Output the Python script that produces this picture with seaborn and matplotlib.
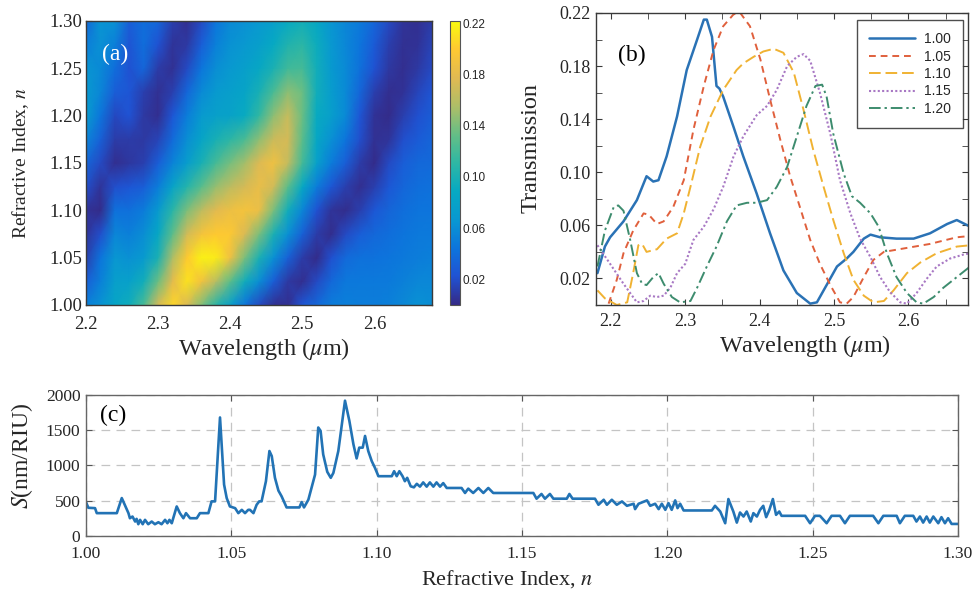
import numpy as np
import pandas as pd
import matplotlib
matplotlib.use("Agg")
import matplotlib.pyplot as plt
from matplotlib.colors import LinearSegmentedColormap
from matplotlib.lines import Line2D
from matplotlib.ticker import FixedLocator
import seaborn as sns

# ---------------- data: panel (a) transmission map ----------------
map_wavelength = [2.20, 2.22, 2.24, 2.26, 2.28, 2.30, 2.32, 2.34, 2.36, 2.38, 2.40, 2.42, 2.44,
                  2.46, 2.48, 2.50, 2.52, 2.54, 2.56, 2.58, 2.60, 2.62, 2.64, 2.66, 2.68]
map_index = [1.000, 1.025, 1.050, 1.075, 1.100, 1.125, 1.150, 1.175, 1.200, 1.225, 1.250, 1.275, 1.300]

t_map_1000 = [.052, .064, .083, .094, .122, .172, .205, .175, .142, .108, .077, .045, .018, .004, .003, .025, .036, .050, .052, .050, .050, .052, .057, .063, .060]
t_map_1025 = [.030, .052, .075, .078, .095, .135, .180, .210, .190, .160, .130, .095, .060, .030, .008, .003, .018, .036, .046, .047, .047, .048, .052, .056, .056]
t_map_1050 = [.012, .044, .066, .062, .070, .100, .155, .200, .217, .215, .188, .140, .100, .062, .032, .010, .001, .021, .038, .042, .043, .045, .047, .050, .052]
t_map_1075 = [.006, .020, .055, .052, .060, .085, .130, .170, .192, .200, .198, .175, .140, .100, .062, .032, .010, .002, .018, .030, .036, .040, .044, .047, .048]
t_map_1100 = [.005, .001, .042, .041, .049, .070, .108, .140, .162, .178, .187, .192, .185, .140, .095, .055, .022, .006, .002, .012, .026, .034, .040, .044, .045]
t_map_1125 = [.020, .006, .020, .025, .030, .050, .080, .105, .128, .148, .162, .172, .183, .170, .130, .088, .050, .026, .012, .003, .012, .026, .035, .040, .042]
t_map_1150 = [.035, .018, .003, .007, .012, .030, .053, .072, .098, .120, .138, .152, .176, .188, .165, .120, .078, .050, .030, .010, .001, .018, .030, .036, .038]
t_map_1175 = [.055, .032, .010, .010, .008, .014, .038, .060, .082, .098, .110, .122, .145, .168, .172, .130, .085, .062, .045, .020, .004, .006, .020, .028, .034]
t_map_1200 = [.073, .045, .017, .023, .008, .003, .025, .050, .070, .077, .079, .090, .112, .145, .166, .135, .090, .075, .058, .025, .005, .001, .012, .021, .029]
t_map_1225 = [.070, .055, .030, .025, .012, .004, .012, .035, .058, .070, .075, .082, .098, .122, .145, .135, .095, .072, .058, .035, .012, .003, .005, .015, .024]
t_map_1250 = [.065, .058, .040, .022, .035, .010, .004, .018, .045, .060, .068, .075, .085, .100, .118, .120, .095, .070, .058, .042, .022, .008, .003, .008, .018]
t_map_1275 = [.050, .062, .052, .024, .040, .022, .006, .008, .030, .052, .063, .068, .076, .088, .104, .110, .092, .068, .056, .045, .028, .012, .004, .005, .014]
t_map_1300 = [.035, .065, .062, .030, .040, .035, .012, .003, .018, .045, .058, .062, .068, .075, .088, .095, .085, .065, .055, .048, .035, .018, .006, .003, .010]
cbar_ticks = [0.02, 0.06, 0.10, 0.14, 0.18, 0.22]

# ---------------- data: panel (b) spectra ----------------
wl_100 = [2.182, 2.192, 2.199, 2.217, 2.235, 2.248, 2.257, 2.264, 2.275, 2.289, 2.302, 2.316, 2.325, 2.329,
          2.336, 2.342, 2.346, 2.351, 2.365, 2.378, 2.396, 2.414, 2.432, 2.450, 2.468, 2.477, 2.490, 2.504,
          2.517, 2.526, 2.540, 2.549, 2.562, 2.584, 2.607, 2.629, 2.652, 2.665, 2.683]
tr_100 = [0.024, 0.044, 0.051, 0.063, 0.079, 0.097, 0.093, 0.094, 0.112, 0.142, 0.177, 0.200, 0.215, 0.215,
          0.202, 0.165, 0.163, 0.157, 0.134, 0.112, 0.084, 0.054, 0.026, 0.009, 0.001, 0.002, 0.015, 0.029,
          0.035, 0.040, 0.050, 0.053, 0.051, 0.050, 0.050, 0.054, 0.061, 0.064, 0.059]
wl_105 = [2.197, 2.208, 2.217, 2.230, 2.244, 2.251, 2.262, 2.271, 2.284, 2.298, 2.311, 2.325, 2.338, 2.351,
          2.365, 2.374, 2.387, 2.401, 2.414, 2.428, 2.441, 2.454, 2.468, 2.481, 2.495, 2.508, 2.517, 2.526,
          2.540, 2.553, 2.567, 2.598, 2.629, 2.665, 2.683]
tr_105 = [0.001, 0.019, 0.039, 0.056, 0.069, 0.068, 0.061, 0.063, 0.074, 0.094, 0.132, 0.165, 0.192, 0.210,
          0.219, 0.220, 0.210, 0.185, 0.155, 0.124, 0.097, 0.074, 0.049, 0.031, 0.015, 0.002, 0.001, 0.006,
          0.021, 0.034, 0.040, 0.043, 0.046, 0.051, 0.052]
wl_110 = [2.182, 2.192, 2.208, 2.222, 2.230, 2.237, 2.242, 2.248, 2.262, 2.275, 2.289, 2.298, 2.307, 2.320,
          2.334, 2.351, 2.369, 2.378, 2.392, 2.405, 2.419, 2.432, 2.446, 2.459, 2.472, 2.486, 2.499, 2.513,
          2.526, 2.540, 2.553, 2.567, 2.580, 2.598, 2.616, 2.638, 2.665, 2.683]
tr_110 = [0.011, 0.005, 0.000, 0.002, 0.024, 0.045, 0.046, 0.040, 0.042, 0.050, 0.054, 0.069, 0.089, 0.119,
          0.142, 0.162, 0.177, 0.182, 0.187, 0.191, 0.193, 0.190, 0.175, 0.147, 0.117, 0.089, 0.064, 0.039,
          0.019, 0.007, 0.002, 0.003, 0.011, 0.024, 0.032, 0.039, 0.044, 0.045]
wl_115 = [2.182, 2.199, 2.217, 2.235, 2.244, 2.253, 2.262, 2.271, 2.280, 2.289, 2.300, 2.311, 2.325, 2.338,
          2.351, 2.365, 2.378, 2.396, 2.410, 2.423, 2.437, 2.450, 2.459, 2.468, 2.481, 2.495, 2.508, 2.522,
          2.535, 2.549, 2.562, 2.575, 2.589, 2.598, 2.611, 2.625, 2.638, 2.656, 2.674, 2.683]
tr_115 = [0.045, 0.031, 0.016, 0.002, 0.003, 0.007, 0.006, 0.007, 0.013, 0.024, 0.031, 0.049, 0.059, 0.072,
          0.089, 0.112, 0.127, 0.143, 0.150, 0.162, 0.180, 0.187, 0.189, 0.184, 0.160, 0.129, 0.094, 0.069,
          0.050, 0.036, 0.021, 0.010, 0.002, 0.001, 0.009, 0.020, 0.029, 0.035, 0.038, 0.039]
wl_120 = [2.182, 2.192, 2.204, 2.210, 2.217, 2.226, 2.235, 2.242, 2.248, 2.257, 2.264, 2.271, 2.282, 2.293,
          2.307, 2.316, 2.329, 2.342, 2.356, 2.369, 2.383, 2.396, 2.410, 2.423, 2.437, 2.450, 2.463, 2.475,
          2.484, 2.490, 2.499, 2.513, 2.524, 2.535, 2.549, 2.560, 2.571, 2.584, 2.598, 2.611, 2.620, 2.634,
          2.647, 2.665, 2.683]
tr_120 = [0.029, 0.056, 0.074, 0.075, 0.071, 0.049, 0.024, 0.016, 0.015, 0.021, 0.024, 0.016, 0.006, 0.002,
          0.003, 0.013, 0.029, 0.044, 0.063, 0.075, 0.077, 0.077, 0.079, 0.089, 0.104, 0.127, 0.150, 0.165,
          0.166, 0.157, 0.129, 0.099, 0.082, 0.077, 0.069, 0.059, 0.039, 0.021, 0.009, 0.002, 0.001, 0.006,
          0.013, 0.021, 0.029]
legend_labels = ["1.00", "1.05", "1.10", "1.15", "1.20"]

# ---------------- data: panel (c) sensitivity ----------------
n_sens = [1.0000, 1.0008, 1.0031, 1.0037, 1.0106, 1.0123, 1.0146, 1.0151, 1.0160, 1.0169, 1.0174, 1.0180,
          1.0186, 1.0195, 1.0203, 1.0214, 1.0226, 1.0237, 1.0249, 1.0260, 1.0272, 1.0280, 1.0287, 1.0295,
          1.0312, 1.0323, 1.0335, 1.0344, 1.0358, 1.0381, 1.0392, 1.0421, 1.0432, 1.0444, 1.0461, 1.0475,
          1.0484, 1.0495, 1.0513, 1.0524, 1.0536, 1.0547, 1.0558, 1.0564, 1.0576, 1.0587, 1.0596, 1.0604,
          1.0619, 1.0631, 1.0639, 1.0650, 1.0662, 1.0673, 1.0690, 1.0734, 1.0742, 1.0750, 1.0765, 1.0788,
          1.0799, 1.0807, 1.0816, 1.0830, 1.0842, 1.0851, 1.0868, 1.0891, 1.0906, 1.0920, 1.0931, 1.0940,
          1.0952, 1.0960, 1.0971, 1.0983, 1.0994, 1.1006, 1.1052, 1.1060, 1.1069, 1.1078, 1.1089, 1.1097,
          1.1105, 1.1117, 1.1128, 1.1138, 1.1149, 1.1160, 1.1172, 1.1183, 1.1195, 1.1206, 1.1218, 1.1229,
          1.1241, 1.1292, 1.1304, 1.1315, 1.1332, 1.1350, 1.1367, 1.1384, 1.1401, 1.1539, 1.1550, 1.1567,
          1.1579, 1.1596, 1.1608, 1.1654, 1.1663, 1.1674, 1.1751, 1.1763, 1.1781, 1.1792, 1.1809, 1.1826,
          1.1844, 1.1861, 1.1884, 1.1889, 1.1901, 1.1930, 1.1941, 1.1958, 1.1970, 1.1981, 1.1993, 1.2004,
          1.2015, 1.2027, 1.2035, 1.2044, 1.2056, 1.2153, 1.2164, 1.2182, 1.2199, 1.2210, 1.2227, 1.2239,
          1.2250, 1.2262, 1.2273, 1.2287, 1.2296, 1.2308, 1.2319, 1.2330, 1.2340, 1.2351, 1.2363, 1.2374,
          1.2385, 1.2393, 1.2474, 1.2491, 1.2508, 1.2525, 1.2548, 1.2565, 1.2594, 1.2611, 1.2628, 1.2708,
          1.2726, 1.2743, 1.2789, 1.2800, 1.2817, 1.2846, 1.2857, 1.2869, 1.2880, 1.2892, 1.2903, 1.2915,
          1.2932, 1.2943, 1.2955, 1.2966, 1.2978, 1.3000]
s_sens = [480, 400, 395, 324, 324, 538, 324, 252, 276, 205, 243, 167,
          229, 167, 229, 167, 205, 167, 195, 167, 229, 181, 229, 181,
          419, 324, 252, 324, 252, 252, 324, 324, 491, 491, 1681, 729,
          538, 419, 395, 324, 371, 324, 371, 371, 324, 443, 491, 491,
          777, 1205, 1133, 825, 643, 562, 405, 405, 481, 405, 515, 871,
          1539, 1491, 1157, 910, 825, 895, 1205, 1919, 1633, 1300, 1100, 1253,
          1253, 1419, 1205, 1062, 967, 848, 848, 919, 848, 919, 848, 777,
          825, 705, 690, 740, 700, 760, 700, 760, 700, 760, 700, 750,
          681, 681, 610, 672, 610, 681, 610, 681, 610, 610, 529, 596,
          529, 596, 529, 529, 596, 529, 529, 443, 514, 443, 514, 443,
          490, 428, 457, 381, 457, 505, 428, 457, 381, 457, 371, 466,
          371, 505, 395, 457, 362, 362, 428, 347, 181, 524, 347, 190,
          333, 276, 347, 205, 324, 276, 371, 428, 267, 371, 524, 300,
          347, 286, 286, 181, 286, 286, 181, 286, 286, 181, 286, 286,
          181, 286, 286, 181, 286, 286, 205, 276, 190, 276, 190, 276,
          181, 267, 181, 252, 171, 171]

# ---------------- styling ----------------
sns.set_style("ticks")
plt.rcParams["font.family"] = ["Liberation Serif", "DejaVu Serif"]
plt.rcParams["mathtext.fontset"] = "stix"

parula_colors = [(0.2081, 0.1663, 0.5292), (0.1253, 0.3242, 0.8303), (0.0498, 0.4586, 0.8641),
                 (0.0343, 0.5966, 0.8199), (0.0267, 0.6642, 0.7607), (0.1801, 0.7177, 0.6424),
                 (0.3953, 0.7459, 0.5244), (0.6834, 0.7435, 0.4044), (0.8824, 0.7274, 0.3217),
                 (0.9955, 0.7861, 0.1967), (0.9763, 0.9831, 0.0538)]
parula = LinearSegmentedColormap.from_list("parula", parula_colors)

fig = plt.figure(figsize=(9.73, 5.98), dpi=100)

frame_col = "#3a3a3a"


def style_frame(ax, col, lw=1.0):
    for sp in ax.spines.values():
        sp.set_visible(True)
        sp.set_color(col)
        sp.set_linewidth(lw)


# ---------------- panel (a) ----------------
ax_a = fig.add_axes([0.0884, 0.490, 0.3556, 0.4754])
Z = np.array([t_map_1000, t_map_1025, t_map_1050, t_map_1075, t_map_1100, t_map_1125, t_map_1150,
              t_map_1175, t_map_1200, t_map_1225, t_map_1250, t_map_1275, t_map_1300])
L, N = np.meshgrid(map_wavelength, map_index)
mesh = ax_a.pcolormesh(L, N, Z, shading="gouraud", cmap=parula, vmin=0.0, vmax=0.222, rasterized=True)
ax_a.set_xlim(2.2, 2.68)
ax_a.set_ylim(1.0, 1.3)
ax_a.set_xticks([2.2, 2.3, 2.4, 2.5, 2.6])
ax_a.set_xticklabels(["2.2", "2.3", "2.4", "2.5", "2.6"])
ax_a.set_yticks([1.00, 1.05, 1.10, 1.15, 1.20, 1.25, 1.30])
ax_a.set_yticklabels(["%.2f" % v for v in [1.00, 1.05, 1.10, 1.15, 1.20, 1.25, 1.30]])
ax_a.tick_params(direction="in", top=True, right=True, labelsize=13.5, length=4, color=frame_col, pad=3)
ax_a.tick_params(axis="x", pad=8)
style_frame(ax_a, frame_col)
ax_a.set_xlabel(r"Wavelength ($\mu$m)", fontsize=17.5)
ax_a.xaxis.set_label_coords(0.514, -0.11)
ax_a.set_ylabel(r"Refractive Index, $n$", fontsize=14)
ax_a.yaxis.set_label_coords(-0.158, 0.5)
ax_a.text(0.046, 0.88, "(a)", color="white", fontsize=17, transform=ax_a.transAxes, va="center", ha="left")

cax = fig.add_axes([0.4625, 0.490, 0.0103, 0.4754])
cb = fig.colorbar(mesh, cax=cax)
cb.outline.set_edgecolor("#555555")
cb.outline.set_linewidth(0.8)
cax.set_yticks(cbar_ticks, labels=["%.2f" % v for v in cbar_ticks], fontsize=8.5, fontfamily="Liberation Sans")
cax.tick_params(direction="in", length=3, width=0.6, color="#555555", pad=2, left=True)

# ---------------- panel (b) ----------------
ax_b = fig.add_axes([0.6125, 0.490, 0.3823, 0.4883])
curves = [(wl_100, tr_100), (wl_105, tr_105), (wl_110, tr_110), (wl_115, tr_115), (wl_120, tr_120)]
colors_b = ["#2a72b5", "#e0603c", "#f0b232", "#a878c4", "#3d8c6e"]
dashes_b = ["-", (0, (3.5, 2.5)), (0, (6, 2.5)), (0, (1, 1.1)), (0, (6, 2, 1.2, 2))]
widths_b = [1.8, 1.4, 1.4, 1.5, 1.4]
for (wl, tr), col, ls, lw in zip(curves, colors_b, dashes_b, widths_b):
    sns.lineplot(x=wl, y=tr, ax=ax_b, color=col, linewidth=lw, linestyle=ls, sort=False,
                 estimator=None, legend=False)
ax_b.set_xlim(2.18, 2.68)
ax_b.set_ylim(0.0, 0.22)
ax_b.set_xticks([2.2, 2.3, 2.4, 2.5, 2.6])
ax_b.set_xticklabels(["2.2", "2.3", "2.4", "2.5", "2.6"])
ax_b.xaxis.set_minor_locator(FixedLocator([2.25, 2.35, 2.45, 2.55, 2.65]))
ax_b.set_yticks([0.02, 0.06, 0.10, 0.14, 0.18, 0.22])
ax_b.set_yticklabels(["%.2f" % v for v in [0.02, 0.06, 0.10, 0.14, 0.18, 0.22]])
ax_b.yaxis.set_minor_locator(FixedLocator([0.04, 0.08, 0.12, 0.16, 0.20]))
ax_b.tick_params(which="both", direction="in", top=True, right=True, color=frame_col)
ax_b.tick_params(which="major", labelsize=13, length=4, pad=4)
ax_b.tick_params(axis="x", which="major", pad=6)
ax_b.tick_params(which="minor", length=4)
style_frame(ax_b, frame_col)
ax_b.set_xlabel(r"Wavelength ($\mu$m)", fontsize=17.5)
ax_b.xaxis.set_label_coords(0.562, -0.095)
ax_b.set_ylabel("Transmission", fontsize=17.5)
ax_b.yaxis.set_label_coords(-0.145, 0.538)
ax_b.text(0.059, 0.856, "(b)", color="black", fontsize=17, transform=ax_b.transAxes, va="center", ha="left")
handles = [Line2D([0], [0], color=c, linestyle=ls, linewidth=lw) for c, ls, lw in zip(colors_b, dashes_b, widths_b)]
leg = ax_b.legend(handles, legend_labels, loc="upper right", bbox_to_anchor=(0.987, 0.975), borderaxespad=0,
                  frameon=True, fancybox=False, edgecolor="#222222", handlelength=3.3, labelspacing=0.25,
                  borderpad=0.85, handletextpad=0.7, prop={"family": "Liberation Sans", "size": 10})
leg.get_frame().set_linewidth(1.0)

# ---------------- panel (c) ----------------
ax_c = fig.add_axes([0.0884, 0.1037, 0.8962, 0.2358])
sns.lineplot(x=n_sens, y=s_sens, ax=ax_c, color="#2273b5", linewidth=1.9, estimator=None, sort=False)
ax_c.set_xlim(1.0, 1.3)
ax_c.set_ylim(0, 2000)
xt = [1.00, 1.05, 1.10, 1.15, 1.20, 1.25, 1.30]
ax_c.set_xticks(xt)
ax_c.set_xticklabels(["%.2f" % v for v in xt])
ax_c.set_yticks([0, 500, 1000, 1500, 2000])
ax_c.grid(True, linestyle=(0, (7, 5)), color="#c4c4c4", linewidth=0.9)
ax_c.tick_params(direction="in", top=True, right=True, labelsize=12.5, length=4, color="#555555", pad=4)
ax_c.tick_params(axis="x", pad=7)
style_frame(ax_c, "#666666")
ax_c.set_xlabel(r"Refractive Index, $n$", fontsize=16)
ax_c.xaxis.set_label_coords(0.483, -0.225)
ax_c.set_ylabel(r"$S$(nm/RIU)", fontsize=17)
ax_c.yaxis.set_label_coords(-0.058, 0.567)
ax_c.text(0.016, 0.858, "(c)", color="black", fontsize=17, transform=ax_c.transAxes, va="center", ha="left")

fig.savefig("out.png", dpi=100)
